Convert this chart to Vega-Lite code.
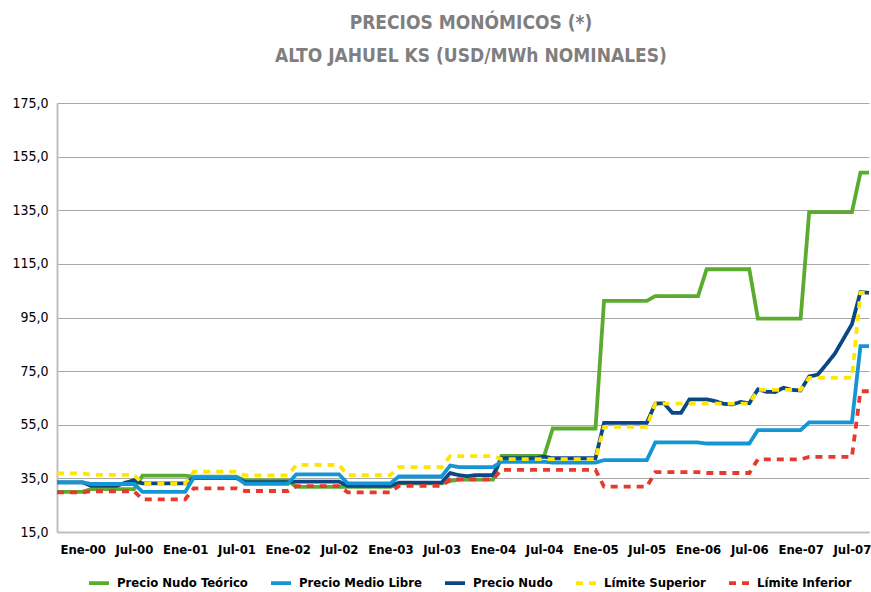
{
 "$schema": "https://vega.github.io/schema/vega-lite/v6.json",
 "width": 812, "height": 429,
 "autosize": "none",
 "padding": {"left": 57, "top": 103, "right": 2, "bottom": 60},
 "background": "white",
 "title": {"text": ["PRECIOS MONÓMICOS (*)", "ALTO JAHUEL KS (USD/MWh NOMINALES)"], "font": "DejaVu Sans Condensed, Liberation Sans, sans-serif", "fontSize": 19, "fontWeight": "bold", "color": "#7f7f7f", "anchor": "middle", "offset": 30, "lineHeight": 33, "dx": 8},
 "data": {"values": [
  {"mes":"Oct-99","teorico":30.0,"libre":33.5,"nudo":33.5,"sup":36.9,"inf":29.8},
  {"mes":"Nov-99","teorico":30.0,"libre":33.5,"nudo":33.5,"sup":36.9,"inf":29.8},
  {"mes":"Dic-99","teorico":30.0,"libre":33.5,"nudo":33.5,"sup":36.9,"inf":29.8},
  {"mes":"Ene-00","teorico":30.0,"libre":33.5,"nudo":33.5,"sup":36.9,"inf":29.8},
  {"mes":"Feb-00","teorico":31.0,"libre":32.9,"nudo":32.2,"sup":36.3,"inf":30.2},
  {"mes":"Mar-00","teorico":31.0,"libre":32.9,"nudo":32.2,"sup":36.3,"inf":30.2},
  {"mes":"Abr-00","teorico":31.0,"libre":32.9,"nudo":32.2,"sup":36.3,"inf":30.2},
  {"mes":"May-00","teorico":31.0,"libre":32.9,"nudo":32.2,"sup":36.3,"inf":30.2},
  {"mes":"Jun-00","teorico":31.0,"libre":32.9,"nudo":33.4,"sup":36.3,"inf":30.2},
  {"mes":"Jul-00","teorico":31.0,"libre":32.9,"nudo":34.3,"sup":36.3,"inf":30.2},
  {"mes":"Ago-00","teorico":36.0,"libre":30.0,"nudo":33.1,"sup":33.1,"inf":27.2},
  {"mes":"Sep-00","teorico":36.0,"libre":30.0,"nudo":33.1,"sup":33.1,"inf":27.2},
  {"mes":"Oct-00","teorico":36.0,"libre":30.0,"nudo":33.1,"sup":33.1,"inf":27.2},
  {"mes":"Nov-00","teorico":36.0,"libre":30.0,"nudo":33.1,"sup":33.1,"inf":27.2},
  {"mes":"Dic-00","teorico":36.0,"libre":30.0,"nudo":33.1,"sup":33.1,"inf":27.2},
  {"mes":"Ene-01","teorico":36.0,"libre":30.0,"nudo":33.1,"sup":33.1,"inf":27.2},
  {"mes":"Feb-01","teorico":35.6,"libre":35.3,"nudo":35.1,"sup":37.5,"inf":31.3},
  {"mes":"Mar-01","teorico":35.6,"libre":35.3,"nudo":35.1,"sup":37.5,"inf":31.3},
  {"mes":"Abr-01","teorico":35.6,"libre":35.3,"nudo":35.1,"sup":37.5,"inf":31.3},
  {"mes":"May-01","teorico":35.6,"libre":35.3,"nudo":35.1,"sup":37.5,"inf":31.3},
  {"mes":"Jun-01","teorico":35.6,"libre":35.3,"nudo":35.1,"sup":37.5,"inf":31.3},
  {"mes":"Jul-01","teorico":35.6,"libre":35.3,"nudo":35.1,"sup":37.5,"inf":31.3},
  {"mes":"Ago-01","teorico":34.2,"libre":33.0,"nudo":33.6,"sup":36.1,"inf":30.3},
  {"mes":"Sep-01","teorico":34.2,"libre":33.0,"nudo":33.6,"sup":36.1,"inf":30.3},
  {"mes":"Oct-01","teorico":34.2,"libre":33.0,"nudo":33.6,"sup":36.1,"inf":30.3},
  {"mes":"Nov-01","teorico":34.2,"libre":33.0,"nudo":33.6,"sup":36.1,"inf":30.3},
  {"mes":"Dic-01","teorico":34.2,"libre":33.0,"nudo":33.6,"sup":36.1,"inf":30.3},
  {"mes":"Ene-02","teorico":34.2,"libre":33.0,"nudo":33.6,"sup":36.1,"inf":30.3},
  {"mes":"Feb-02","teorico":31.8,"libre":36.5,"nudo":33.8,"sup":40.0,"inf":32.1},
  {"mes":"Mar-02","teorico":31.8,"libre":36.5,"nudo":33.8,"sup":40.0,"inf":32.1},
  {"mes":"Abr-02","teorico":31.8,"libre":36.5,"nudo":33.8,"sup":40.0,"inf":32.1},
  {"mes":"May-02","teorico":31.8,"libre":36.5,"nudo":33.8,"sup":40.0,"inf":32.1},
  {"mes":"Jun-02","teorico":31.8,"libre":36.5,"nudo":33.8,"sup":40.0,"inf":32.1},
  {"mes":"Jul-02","teorico":31.8,"libre":36.5,"nudo":33.8,"sup":40.0,"inf":32.1},
  {"mes":"Ago-02","teorico":31.8,"libre":33.1,"nudo":32.2,"sup":36.2,"inf":29.8},
  {"mes":"Sep-02","teorico":31.8,"libre":33.1,"nudo":32.2,"sup":36.2,"inf":29.8},
  {"mes":"Oct-02","teorico":31.8,"libre":33.1,"nudo":32.2,"sup":36.2,"inf":29.8},
  {"mes":"Nov-02","teorico":31.8,"libre":33.1,"nudo":32.2,"sup":36.2,"inf":29.8},
  {"mes":"Dic-02","teorico":31.8,"libre":33.1,"nudo":32.2,"sup":36.2,"inf":29.8},
  {"mes":"Ene-03","teorico":31.8,"libre":33.1,"nudo":32.2,"sup":36.2,"inf":29.8},
  {"mes":"Feb-03","teorico":33.1,"libre":35.7,"nudo":33.4,"sup":39.2,"inf":32.2},
  {"mes":"Mar-03","teorico":33.1,"libre":35.7,"nudo":33.4,"sup":39.2,"inf":32.2},
  {"mes":"Abr-03","teorico":33.1,"libre":35.7,"nudo":33.4,"sup":39.2,"inf":32.2},
  {"mes":"May-03","teorico":33.1,"libre":35.7,"nudo":33.4,"sup":39.2,"inf":32.2},
  {"mes":"Jun-03","teorico":33.1,"libre":35.7,"nudo":33.4,"sup":39.2,"inf":32.2},
  {"mes":"Jul-03","teorico":33.1,"libre":35.7,"nudo":33.4,"sup":39.2,"inf":32.2},
  {"mes":"Ago-03","teorico":34.0,"libre":39.8,"nudo":37.0,"sup":43.3,"inf":34.6},
  {"mes":"Sep-03","teorico":34.5,"libre":39.2,"nudo":36.2,"sup":43.3,"inf":34.6},
  {"mes":"Oct-03","teorico":34.5,"libre":39.2,"nudo":35.8,"sup":43.3,"inf":34.6},
  {"mes":"Nov-03","teorico":34.5,"libre":39.2,"nudo":36.2,"sup":43.3,"inf":34.6},
  {"mes":"Dic-03","teorico":34.5,"libre":39.2,"nudo":36.2,"sup":43.3,"inf":34.6},
  {"mes":"Ene-04","teorico":34.5,"libre":39.2,"nudo":36.2,"sup":43.3,"inf":34.6},
  {"mes":"Feb-04","teorico":43.4,"libre":41.2,"nudo":42.5,"sup":42.2,"inf":38.2},
  {"mes":"Mar-04","teorico":43.4,"libre":41.2,"nudo":42.5,"sup":42.2,"inf":38.2},
  {"mes":"Abr-04","teorico":43.4,"libre":41.2,"nudo":42.5,"sup":42.2,"inf":38.2},
  {"mes":"May-04","teorico":43.4,"libre":41.2,"nudo":42.5,"sup":42.2,"inf":38.2},
  {"mes":"Jun-04","teorico":43.4,"libre":41.2,"nudo":42.5,"sup":42.2,"inf":38.2},
  {"mes":"Jul-04","teorico":43.4,"libre":41.2,"nudo":43.1,"sup":42.2,"inf":38.2},
  {"mes":"Ago-04","teorico":53.6,"libre":40.9,"nudo":42.5,"sup":42.2,"inf":38.2},
  {"mes":"Sep-04","teorico":53.6,"libre":40.9,"nudo":42.5,"sup":42.2,"inf":38.2},
  {"mes":"Oct-04","teorico":53.6,"libre":40.9,"nudo":42.5,"sup":42.2,"inf":38.2},
  {"mes":"Nov-04","teorico":53.6,"libre":40.9,"nudo":42.5,"sup":42.2,"inf":38.2},
  {"mes":"Dic-04","teorico":53.6,"libre":40.9,"nudo":42.5,"sup":42.2,"inf":38.2},
  {"mes":"Ene-05","teorico":53.6,"libre":40.9,"nudo":42.5,"sup":42.2,"inf":38.2},
  {"mes":"Feb-05","teorico":101.2,"libre":41.8,"nudo":55.7,"sup":54.2,"inf":31.9},
  {"mes":"Mar-05","teorico":101.2,"libre":41.8,"nudo":55.7,"sup":54.2,"inf":31.9},
  {"mes":"Abr-05","teorico":101.2,"libre":41.8,"nudo":55.7,"sup":54.2,"inf":31.9},
  {"mes":"May-05","teorico":101.2,"libre":41.8,"nudo":55.7,"sup":54.2,"inf":31.9},
  {"mes":"Jun-05","teorico":101.2,"libre":41.8,"nudo":55.7,"sup":54.2,"inf":31.9},
  {"mes":"Jul-05","teorico":101.2,"libre":41.8,"nudo":55.7,"sup":54.2,"inf":31.9},
  {"mes":"Ago-05","teorico":103.0,"libre":48.4,"nudo":62.9,"sup":62.9,"inf":37.3},
  {"mes":"Sep-05","teorico":103.0,"libre":48.4,"nudo":63.0,"sup":62.9,"inf":37.3},
  {"mes":"Oct-05","teorico":103.0,"libre":48.4,"nudo":59.4,"sup":62.9,"inf":37.3},
  {"mes":"Nov-05","teorico":103.0,"libre":48.4,"nudo":59.4,"sup":62.9,"inf":37.3},
  {"mes":"Dic-05","teorico":103.0,"libre":48.4,"nudo":64.5,"sup":62.9,"inf":37.3},
  {"mes":"Ene-06","teorico":103.0,"libre":48.4,"nudo":64.5,"sup":62.9,"inf":37.3},
  {"mes":"Feb-06","teorico":113.0,"libre":48.0,"nudo":64.5,"sup":62.9,"inf":37.0},
  {"mes":"Mar-06","teorico":113.0,"libre":48.0,"nudo":63.8,"sup":62.9,"inf":37.0},
  {"mes":"Abr-06","teorico":113.0,"libre":48.0,"nudo":62.8,"sup":62.9,"inf":37.0},
  {"mes":"May-06","teorico":113.0,"libre":48.0,"nudo":62.6,"sup":62.9,"inf":37.0},
  {"mes":"Jun-06","teorico":113.0,"libre":48.0,"nudo":63.5,"sup":62.9,"inf":37.0},
  {"mes":"Jul-06","teorico":113.0,"libre":48.0,"nudo":63.0,"sup":62.9,"inf":37.0},
  {"mes":"Ago-06","teorico":94.6,"libre":53.0,"nudo":68.2,"sup":68.0,"inf":42.1},
  {"mes":"Sep-06","teorico":94.6,"libre":53.0,"nudo":67.3,"sup":68.0,"inf":42.1},
  {"mes":"Oct-06","teorico":94.6,"libre":53.0,"nudo":67.2,"sup":68.0,"inf":42.1},
  {"mes":"Nov-06","teorico":94.6,"libre":53.0,"nudo":68.8,"sup":68.0,"inf":42.1},
  {"mes":"Dic-06","teorico":94.6,"libre":53.0,"nudo":68.0,"sup":68.0,"inf":42.1},
  {"mes":"Ene-07","teorico":94.6,"libre":53.0,"nudo":67.8,"sup":68.0,"inf":42.1},
  {"mes":"Feb-07","teorico":134.3,"libre":55.9,"nudo":73.0,"sup":72.5,"inf":43.0},
  {"mes":"Mar-07","teorico":134.3,"libre":55.9,"nudo":73.7,"sup":72.5,"inf":43.0},
  {"mes":"Abr-07","teorico":134.3,"libre":55.9,"nudo":77.5,"sup":72.5,"inf":43.0},
  {"mes":"May-07","teorico":134.3,"libre":55.9,"nudo":81.5,"sup":72.5,"inf":43.0},
  {"mes":"Jun-07","teorico":134.3,"libre":55.9,"nudo":87.0,"sup":72.5,"inf":43.0},
  {"mes":"Jul-07","teorico":134.3,"libre":55.9,"nudo":92.5,"sup":72.5,"inf":43.0},
  {"mes":"Ago-07","teorico":149.0,"libre":84.3,"nudo":104.5,"sup":104.3,"inf":67.5},
  {"mes":"Sep-07","teorico":149.0,"libre":84.3,"nudo":104.2,"sup":104.3,"inf":67.5}
 ]},
 "transform": [{"fold": ["teorico","nudo","libre","sup","inf"], "as": ["serie","valor"]}],
 "mark": {"type": "line", "strokeJoin": "miter"},
 "encoding": {
  "x": {"field": "mes", "type": "ordinal", "sort": null, "scale": {"type": "point", "padding": 0},
   "axis": {"values": ["Ene-00","Jul-00","Ene-01","Jul-01","Ene-02","Jul-02","Ene-03","Jul-03","Ene-04","Jul-04","Ene-05","Jul-05","Ene-06","Jul-06","Ene-07","Jul-07"],
    "labelAngle": 0, "title": null, "ticks": false, "grid": false, "domainColor": "#bfbfbf", "domainWidth": 2,
    "labelFont": "DejaVu Sans Condensed, Liberation Sans, sans-serif", "labelFontSize": 13, "labelFontWeight": "bold", "labelColor": "#000000", "labelPadding": 11}},
  "y": {"field": "valor", "type": "quantitative", "scale": {"domain": [15, 175], "nice": false, "zero": false},
   "axis": {"values": [15,35,55,75,95,115,135,155,175], "labelExpr": "replace(format(datum.value, '.1f'), '.', ',')",
    "title": null, "ticks": false, "domainColor": "#bfbfbf", "domainWidth": 2, "gridColor": "#a8a8a8", "gridWidth": 1.2,
    "labelFont": "DejaVu Sans Condensed, Liberation Sans, sans-serif", "labelFontSize": 14, "labelColor": "#000000", "labelPadding": 9}},
  "color": {"field": "serie", "type": "nominal",
   "scale": {"domain": ["teorico","libre","nudo","sup","inf"], "range": ["#5aab2e","#1596d4","#0b4687","#ffe600","#e8392e"]},
   "legend": {"orient": "none", "legendX": 30, "legendY": 468, "direction": "horizontal", "title": null,
    "labelExpr": "datum.label == 'teorico' ? 'Precio Nudo Teórico' : datum.label == 'libre' ? 'Precio Medio Libre' : datum.label == 'nudo' ? 'Precio Nudo' : datum.label == 'sup' ? 'Límite Superior' : 'Límite Inferior'",
    "symbolType": "stroke", "symbolSize": 400, "labelFont": "DejaVu Sans Condensed, Liberation Sans, sans-serif", "labelFontSize": 13, "labelFontWeight": "bold", "labelColor": "#000000",
    "columnPadding": 15, "labelOffset": 6}},
  "strokeDash": {"field": "serie", "type": "nominal",
   "scale": {"domain": ["teorico","libre","nudo","sup","inf"], "range": [[1,0],[1,0],[1,0],[7,6],[7,6]]}},
  "strokeWidth": {"field": "serie", "type": "ordinal",
   "scale": {"domain": ["teorico","libre","nudo","sup","inf"], "range": [3.8,3.8,3.8,2.5,2.5]}}
 },
 "config": {"view": {"stroke": null}}
}
